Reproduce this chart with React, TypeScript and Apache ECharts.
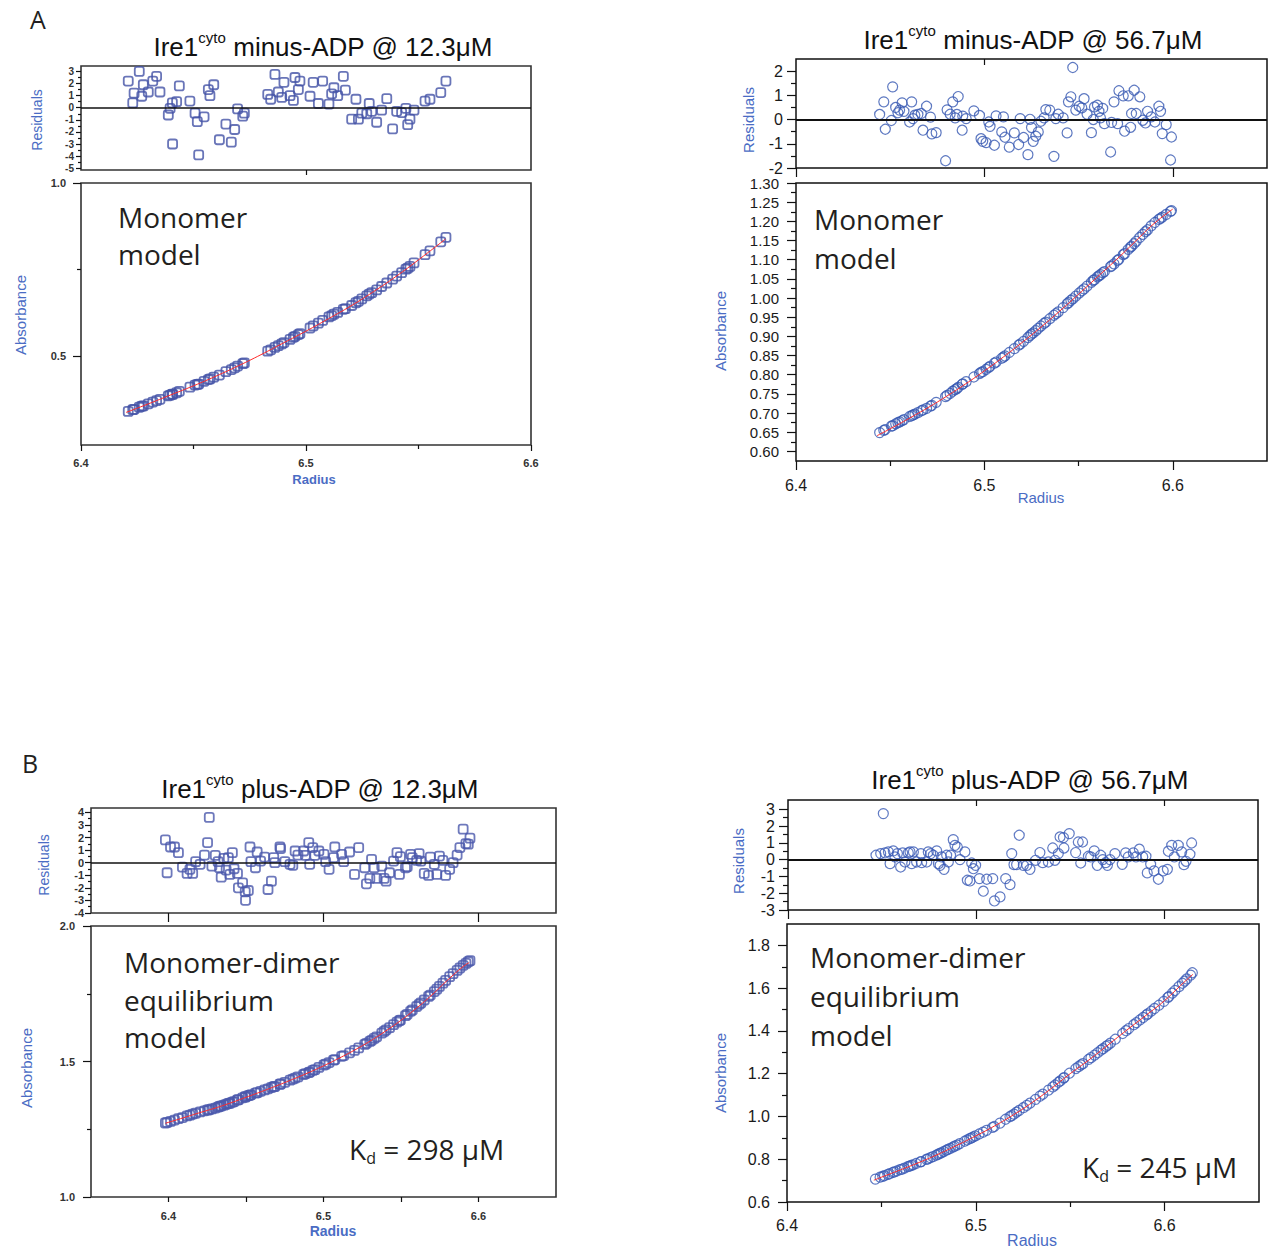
import React, { useEffect, useRef } from "react";
import * as echarts from "echarts";

const SANS = '"Liberation Sans", Arial, Helvetica, sans-serif';
const HUMAN = '"Open Sans", "Noto Sans", sans-serif';
const AXIS_BLUE = "#4a6cc4";
const INK = "#231f20";

// ---------------- Panel A (left): Ire1cyto minus-ADP @ 12.3 uM ----------------
const aLeftRadius = [6.4210,6.4230,6.4236,6.4259,6.4270,6.4277,6.4299,6.4319,6.4336,6.4351,6.4388,6.4396,6.4406,6.4407,6.4425,6.4437,6.4484,6.4507,6.4517,6.4523,6.4547,6.4566,6.4573,6.4590,6.4615,6.4644,6.4668,6.4683,6.4696,6.4719,6.4726,6.4830,6.4843,6.4862,6.4877,6.4892,6.4902,6.4929,6.4944,6.4951,6.4966,6.4973,6.5018,6.5032,6.5055,6.5074,6.5102,6.5114,6.5124,6.5141,6.5166,6.5175,6.5203,6.5222,6.5233,6.5248,6.5270,6.5281,6.5292,6.5314,6.5336,6.5359,6.5385,6.5403,6.5425,6.5444,6.5452,6.5462,6.5480,6.5529,6.5551,6.5599,6.5622];
const aLeftResidual = [2.2,0.4,1.2,3.0,0.95,1.9,1.3,2.2,2.6,1.3,-0.6,-0.05,0.4,-3.0,0.5,1.8,0.55,-0.45,-1.15,-3.9,-0.75,1.5,1.0,1.9,-2.65,-1.35,-2.85,-1.8,-0.1,-0.7,-0.45,1.1,0.7,2.75,1.3,0.85,2.1,1.0,0.6,2.5,1.5,2.2,0.95,2.1,0.35,2.2,0.3,1.15,1.65,1.0,2.6,1.45,-0.95,0.7,-0.95,-0.45,-0.5,0.35,-0.3,-1.2,-0.2,0.75,-1.75,-0.3,-0.4,-0.05,-1.4,-0.95,-0.2,0.55,0.7,1.25,2.2];
const aLeftAbsorbance = [0.340,0.345,0.346,0.352,0.355,0.356,0.362,0.367,0.371,0.375,0.385,0.387,0.390,0.389,0.394,0.398,0.410,0.416,0.418,0.419,0.427,0.432,0.434,0.439,0.445,0.455,0.461,0.466,0.471,0.478,0.480,0.514,0.518,0.525,0.530,0.535,0.539,0.548,0.554,0.557,0.562,0.565,0.581,0.587,0.595,0.603,0.613,0.617,0.621,0.626,0.635,0.637,0.646,0.654,0.658,0.665,0.674,0.679,0.683,0.691,0.701,0.711,0.722,0.731,0.741,0.751,0.754,0.759,0.769,0.793,0.804,0.830,0.843];
const aLeftFitRadius = [6.420,6.430,6.440,6.450,6.460,6.470,6.480,6.490,6.500,6.510,6.520,6.530,6.540,6.550,6.562];
const aLeftFitAbsorbance = [0.337,0.362,0.388,0.414,0.442,0.472,0.504,0.538,0.572,0.608,0.645,0.686,0.730,0.778,0.838];
const aLeftResTicks = [-5,-4,-3,-2,-1,0,1,2,3];
const aLeftResMinor = [-4.5,-3.5,-2.5,-1.5,-0.5,0.5,1.5,2.5];
const aLeftAbsTicks = [0.5,1.0];
const aLeftAbsMinor = [0.75];
const aLeftRadiusTicks = [6.4,6.5,6.6];
const aLeftRadiusMinor = [6.45,6.55];

// ---------------- Panel A (right): Ire1cyto minus-ADP @ 56.7 uM ----------------
const aRightRadius = [6.4444,6.4466,6.4474,6.4506,6.4513,6.4529,6.4541,6.4550,6.4563,6.4573,6.4603,6.4614,6.4621,6.4631,6.4647,6.4665,6.4674,6.4693,6.4714,6.4721,6.4744,6.4794,6.4802,6.4818,6.4832,6.4845,6.4854,6.4861,6.4882,6.4885,6.4903,6.4944,6.4974,6.4982,6.4991,6.5009,6.5023,6.5030,6.5053,6.5062,6.5092,6.5101,6.5109,6.5132,6.5159,6.5182,6.5190,6.5208,6.5231,6.5242,6.5250,6.5259,6.5273,6.5286,6.5300,6.5317,6.5326,6.5347,6.5369,6.5379,6.5392,6.5418,6.5439,6.5446,6.5459,6.5469,6.5485,6.5503,6.5517,6.5529,6.5545,6.5568,6.5578,6.5584,6.5600,6.5608,6.5616,6.5628,6.5637,6.5670,6.5675,6.5688,6.5707,6.5714,6.5737,6.5744,6.5764,6.5776,6.5781,6.5795,6.5806,6.5825,6.5841,6.5855,6.5866,6.5885,6.5905,6.5926,6.5935,6.5944,6.5965,6.5988,6.5993];
const aRightResidual = [0.21,0.73,-0.40,-0.04,1.35,0.50,0.28,0.39,0.69,0.34,-0.10,0.73,0.04,0.18,0.21,0.25,-0.44,0.55,0.10,-0.59,-0.54,-1.70,0.40,0.22,0.73,0.07,0.21,0.95,-0.44,0.14,0.04,0.36,0.17,-0.79,-0.90,-0.95,-0.10,-0.28,-1.06,0.15,-0.51,0.11,-0.73,-1.14,-0.55,-1.03,0.04,-0.74,-1.45,0.01,-0.33,-0.90,-0.69,-0.51,-0.07,0.07,0.41,0.39,-1.52,0.04,0.22,0.07,-0.55,0.73,0.94,2.15,0.39,0.55,0.48,0.86,0.22,-0.54,0.0,0.52,0.59,0.34,0.07,0.46,-0.17,-1.34,-0.12,0.73,-0.17,1.19,0.98,-0.48,0.98,-0.32,0.25,1.21,0.25,0.94,-0.03,-0.14,0.34,0.11,-0.10,0.55,0.34,-0.58,-0.21,-1.67,-0.72];
const aRightAbsorbance = [0.649,0.655,0.657,0.666,0.667,0.672,0.675,0.677,0.680,0.683,0.691,0.693,0.695,0.697,0.701,0.706,0.708,0.712,0.718,0.720,0.728,0.743,0.746,0.751,0.757,0.761,0.764,0.767,0.775,0.776,0.782,0.794,0.803,0.806,0.808,0.814,0.819,0.822,0.830,0.833,0.843,0.846,0.849,0.858,0.868,0.877,0.880,0.887,0.897,0.902,0.906,0.909,0.915,0.921,0.927,0.934,0.937,0.946,0.955,0.959,0.964,0.975,0.985,0.988,0.994,0.998,1.005,1.013,1.019,1.024,1.031,1.041,1.046,1.048,1.055,1.058,1.061,1.066,1.069,1.082,1.084,1.089,1.098,1.101,1.113,1.116,1.127,1.133,1.135,1.142,1.148,1.158,1.166,1.173,1.178,1.188,1.197,1.205,1.208,1.211,1.218,1.226,1.228];
const aRightFitRadius = [6.443,6.45,6.46,6.47,6.48,6.49,6.50,6.51,6.52,6.53,6.54,6.55,6.56,6.57,6.58,6.59,6.60];
const aRightFitAbsorbance = [0.641,0.659,0.686,0.714,0.744,0.776,0.810,0.846,0.884,0.924,0.966,1.010,1.055,1.100,1.147,1.194,1.232];
const aRightResTicks = [-2,-1,0,1,2];
const aRightResMinor = [-1.5,-0.5,0.5,1.5];
const aRightAbsTicks = [0.60,0.65,0.70,0.75,0.80,0.85,0.90,0.95,1.00,1.05,1.10,1.15,1.20,1.25,1.30];
const aRightAbsMinor = [0.625,0.675,0.725,0.775,0.825,0.875,0.925,0.975,1.025,1.075,1.125,1.175,1.225,1.275];
const aRightRadiusTicks = [6.4,6.5,6.6];
const aRightRadiusMinor = [6.45,6.55];

// ---------------- Panel B (left): Ire1cyto plus-ADP @ 12.3 uM ----------------
const bLeftRadius = [6.3980,6.3991,6.4013,6.4039,6.4064,6.4090,6.4120,6.4138,6.4156,6.4175,6.4204,6.4232,6.4252,6.4263,6.4280,6.4302,6.4320,6.4329,6.4340,6.4357,6.4372,6.4386,6.4396,6.4412,6.4423,6.4445,6.4451,6.4478,6.4495,6.4497,6.4515,6.4526,6.4532,6.4561,6.4572,6.4594,6.4620,6.4642,6.4664,6.4679,6.4686,6.4719,6.4723,6.4751,6.4784,6.4802,6.4817,6.4835,6.4872,6.4883,6.4905,6.4911,6.4931,6.4944,6.4970,6.5003,6.5014,6.5036,6.5065,6.5073,6.5117,6.5130,6.5168,6.5200,6.5227,6.5266,6.5277,6.5299,6.5310,6.5327,6.5343,6.5376,6.5391,6.5404,6.5426,6.5452,6.5474,6.5490,6.5496,6.5529,6.5540,6.5562,6.5573,6.5601,6.5617,6.5628,6.5650,6.5678,6.5689,6.5715,6.5731,6.5748,6.5770,6.5788,6.5814,6.5836,6.5862,6.5880,6.5901,6.5919,6.5934,6.5945];
const bLeftResidual = [1.81,-0.80,1.25,1.25,0.80,-0.35,-0.85,-0.53,-0.85,0.08,-0.13,0.61,1.60,3.6,-0.27,0.59,0.08,-0.40,-1.15,0.35,-0.59,0.40,-0.93,0.80,-0.48,-0.85,-2.0,-1.6,-2.32,-2.99,-2.21,1.25,0.08,-0.40,0.85,0.13,0.45,-2.13,-1.47,0.40,0.0,1.25,1.12,0.08,-0.13,-0.21,0.93,0.61,0.93,0.59,1.60,-0.13,1.20,0.59,0.93,0.67,0.08,-0.53,0.40,1.25,0.67,0.08,0.85,-0.93,1.20,-0.40,-1.68,-1.25,0.27,-0.40,-1.25,-0.27,-1.25,-1.47,-0.80,0.13,0.80,-0.93,0.48,-0.40,-0.32,0.67,0.40,0.19,0.72,0.13,-0.85,-1.01,0.45,-0.13,-0.93,0.53,0.19,-1.01,-0.53,0.0,0.61,1.20,2.67,1.52,1.47,1.95];
const bLeftAbsorbance = [1.273,1.275,1.279,1.284,1.289,1.293,1.299,1.302,1.306,1.309,1.314,1.318,1.321,1.322,1.325,1.328,1.332,1.334,1.336,1.339,1.342,1.345,1.346,1.350,1.352,1.358,1.359,1.366,1.370,1.369,1.374,1.376,1.377,1.383,1.385,1.390,1.395,1.399,1.404,1.407,1.408,1.416,1.417,1.423,1.431,1.435,1.439,1.443,1.452,1.455,1.459,1.461,1.467,1.470,1.478,1.487,1.490,1.496,1.505,1.507,1.519,1.522,1.532,1.541,1.550,1.563,1.567,1.574,1.578,1.585,1.591,1.605,1.611,1.617,1.625,1.636,1.645,1.651,1.653,1.669,1.674,1.685,1.690,1.703,1.711,1.716,1.727,1.740,1.745,1.758,1.767,1.777,1.789,1.799,1.813,1.824,1.836,1.845,1.855,1.862,1.868,1.872];
const bLeftFitRadius = [6.398,6.41,6.42,6.43,6.44,6.45,6.46,6.47,6.48,6.49,6.50,6.51,6.52,6.53,6.54,6.55,6.56,6.57,6.58,6.59,6.594];
const bLeftFitAbsorbance = [1.272,1.293,1.311,1.328,1.347,1.368,1.389,1.411,1.434,1.458,1.484,1.512,1.542,1.575,1.612,1.652,1.697,1.746,1.800,1.850,1.865];
const bLeftResTicks = [-4,-3,-2,-1,0,1,2,3,4];
const bLeftResMinor = [-3.5,-2.5,-1.5,-0.5,0.5,1.5,2.5,3.5];
const bLeftAbsTicks = [1.0,1.5,2.0];
const bLeftAbsMinor = [1.25,1.75];
const bLeftRadiusTicks = [6.4,6.5,6.6];
const bLeftRadiusMinor = [6.45,6.55];

// ---------------- Panel B (right): Ire1cyto plus-ADP @ 56.7 uM ----------------
const bRightRadius = [6.4468,6.4493,6.4507,6.4516,6.4534,6.4543,6.4560,6.4569,6.4582,6.4599,6.4610,6.4622,6.4640,6.4649,6.4658,6.4667,6.4684,6.4707,6.4711,6.4738,6.4746,6.4759,6.4773,6.4791,6.4800,6.4809,6.4817,6.4830,6.4844,6.4853,6.4865,6.4879,6.4888,6.4901,6.4915,6.4941,6.4954,6.4968,6.4977,6.4986,6.4998,6.5018,6.5039,6.5057,6.5089,6.5098,6.5128,6.5158,6.5181,6.5190,6.5202,6.5216,6.5230,6.5252,6.5270,6.5287,6.5317,6.5340,6.5355,6.5385,6.5408,6.5420,6.5438,6.5447,6.5465,6.5468,6.5496,6.5530,6.5544,6.5557,6.5567,6.5598,6.5610,6.5629,6.5645,6.5663,6.5674,6.5690,6.5699,6.5713,6.5739,6.5778,6.5796,6.5810,6.5837,6.5851,6.5869,6.5887,6.5904,6.5911,6.5929,6.5947,6.5970,6.5996,6.6018,6.6023,6.6041,6.6055,6.6076,6.6094,6.6106,6.6117,6.6138,6.6147];
const bRightResidual = [0.26,0.36,2.74,0.40,0.46,-0.24,0.52,0.16,0.36,-0.44,0.40,-0.14,0.40,0.46,-0.24,0.46,-0.14,0.36,-0.18,-0.14,0.46,0.36,0.26,0.52,-0.24,-0.34,0.16,-0.58,0.26,-0.14,0.26,1.19,0.85,0.75,0.0,0.46,-1.23,-1.27,-0.20,-0.54,-0.34,-1.13,-1.88,-1.17,-1.13,-2.46,-2.22,-1.13,-1.49,0.36,-0.30,-0.30,1.45,-0.34,-0.34,-0.58,-0.04,0.42,-0.18,-0.14,0.69,-0.04,0.36,1.35,1.31,0.69,1.55,0.42,1.05,-0.20,1.05,0.20,0.16,0.52,-0.34,0.26,0.0,-0.18,-0.34,0.0,0.36,-0.28,0.40,0.16,0.40,0.16,0.62,0.16,0.20,-0.79,-0.28,-0.67,-1.17,-0.67,-0.58,0.50,0.85,0.16,0.85,0.46,-0.30,-0.10,0.32,0.99];
const bRightAbsorbance = [0.707,0.716,0.720,0.723,0.729,0.732,0.738,0.741,0.745,0.751,0.754,0.758,0.765,0.768,0.771,0.774,0.780,0.788,0.789,0.799,0.802,0.807,0.812,0.819,0.823,0.827,0.830,0.836,0.842,0.846,0.851,0.857,0.861,0.866,0.873,0.884,0.890,0.896,0.900,0.904,0.909,0.918,0.927,0.935,0.949,0.953,0.969,0.987,0.999,1.004,1.011,1.020,1.028,1.041,1.052,1.062,1.080,1.095,1.104,1.123,1.138,1.147,1.160,1.166,1.179,1.182,1.202,1.224,1.233,1.241,1.247,1.267,1.275,1.287,1.298,1.310,1.317,1.328,1.333,1.343,1.361,1.388,1.401,1.411,1.429,1.439,1.451,1.463,1.475,1.480,1.492,1.505,1.520,1.538,1.557,1.561,1.577,1.589,1.607,1.623,1.633,1.643,1.661,1.672];
const bRightFitRadius = [6.446,6.45,6.46,6.47,6.48,6.49,6.50,6.51,6.52,6.53,6.54,6.55,6.56,6.57,6.58,6.59,6.60,6.61,6.615];
const bRightFitAbsorbance = [0.702,0.716,0.750,0.785,0.823,0.865,0.909,0.956,1.008,1.066,1.131,1.200,1.265,1.334,1.404,1.472,1.542,1.625,1.665];
const bRightResTicks = [-3,-2,-1,0,1,2,3];
const bRightResMinor = [-2.5,-1.5,-0.5,0.5,1.5,2.5];
const bRightAbsTicks = [0.6,0.8,1.0,1.2,1.4,1.6,1.8];
const bRightAbsMinor = [0.7,0.9,1.1,1.3,1.5,1.7];
const bRightRadiusTicks = [6.4,6.5,6.6];
const bRightRadiusMinor = [6.45,6.55];

const zip = (a: number[], b: number[]) => {
  const n = Math.min(a.length, b.length);
  const out: number[][] = [];
  for (let i = 0; i < n; i++) out.push([a[i], b[i]]);
  return out;
};

const fmtInt = (v: number) => String(Math.round(v));
const fmt1 = (v: number) => v.toFixed(1);
const fmt2 = (v: number) => v.toFixed(2);

type Box = {
  left: number; top: number; width: number; height: number; min: number; max: number;
  yTicks: number[]; yMinor: number[]; yLen: number; yMinorLen: number;
  yLabelSize: number; yLabelMargin: number; yFmt: (v: number) => string;
  xTicks: number[]; xLen: number; xMinor: number[]; xMinorLen: number;
  xLabels: boolean; xLabelSize?: number; xLabelMargin?: number; xTop?: number[];
};

type Panel = {
  radius: number[]; residual: number[]; absorbance: number[];
  fitRadius: number[]; fitAbsorbance: number[];
  xMin: number; xMax: number; color: string; symbol: string; symbolSize: number; symbolBorder: number;
  frame: string; frameWidth: number; zeroWidth: number; labelColor: string; labelFont: string; labelWeight: string;
  res: Box; abs: Box;
};

const panels: Panel[] = [
  {
    radius: aLeftRadius, residual: aLeftResidual, absorbance: aLeftAbsorbance,
    fitRadius: aLeftFitRadius, fitAbsorbance: aLeftFitAbsorbance,
    xMin: 6.4, xMax: 6.6, color: "#4352a6", symbol: "roundRect", symbolSize: 9, symbolBorder: 1.8,
    frame: "#333", frameWidth: 1.6, zeroWidth: 1.5, labelColor: "#333", labelFont: SANS, labelWeight: "bold",
    res: { left: 81, top: 66, width: 450, height: 104, min: -5.15, max: 3.45,
      yTicks: aLeftResTicks, yMinor: aLeftResMinor, yLen: 5, yMinorLen: 3, yLabelSize: 10, yLabelMargin: 7, yFmt: fmtInt,
      xTicks: [6.5], xLen: 5, xMinor: [], xMinorLen: 0, xLabels: false },
    abs: { left: 81, top: 183, width: 450, height: 262, min: 0.243, max: 1.0,
      yTicks: aLeftAbsTicks, yMinor: aLeftAbsMinor, yLen: 8, yMinorLen: 4, yLabelSize: 11, yLabelMargin: 15, yFmt: fmt1,
      xTicks: aLeftRadiusTicks, xLen: 6, xMinor: aLeftRadiusMinor, xMinorLen: 4, xLabels: true, xLabelSize: 11, xLabelMargin: 12 },
  },
  {
    radius: aRightRadius, residual: aRightResidual, absorbance: aRightAbsorbance,
    fitRadius: aRightFitRadius, fitAbsorbance: aRightFitAbsorbance,
    xMin: 6.4, xMax: 6.65, color: "#3658b2", symbol: "circle", symbolSize: 10, symbolBorder: 1.2,
    frame: "#111", frameWidth: 1.5, zeroWidth: 2, labelColor: "#1a1a1a", labelFont: SANS, labelWeight: "normal",
    res: { left: 796, top: 59, width: 471, height: 109, min: -2, max: 2.5,
      yTicks: aRightResTicks, yMinor: aRightResMinor, yLen: 9, yMinorLen: 5, yLabelSize: 16, yLabelMargin: 13, yFmt: fmtInt,
      xTicks: aRightRadiusTicks, xLen: 9, xMinor: [], xMinorLen: 0, xLabels: false, xTop: [6.5] },
    abs: { left: 796, top: 183, width: 471, height: 278, min: 0.575, max: 1.30,
      yTicks: aRightAbsTicks, yMinor: aRightAbsMinor, yLen: 9, yMinorLen: 5, yLabelSize: 15, yLabelMargin: 17, yFmt: fmt2,
      xTicks: aRightRadiusTicks, xLen: 9, xMinor: aRightRadiusMinor, xMinorLen: 5, xLabels: true, xLabelSize: 16, xLabelMargin: 16 },
  },
  {
    radius: bLeftRadius, residual: bLeftResidual, absorbance: bLeftAbsorbance,
    fitRadius: bLeftFitRadius, fitAbsorbance: bLeftFitAbsorbance,
    xMin: 6.35, xMax: 6.65, color: "#4a57ab", symbol: "roundRect", symbolSize: 9, symbolBorder: 1.8,
    frame: "#333", frameWidth: 1.6, zeroWidth: 1.5, labelColor: "#333", labelFont: SANS, labelWeight: "bold",
    res: { left: 91, top: 808, width: 465, height: 105, min: -4, max: 4.35,
      yTicks: bLeftResTicks, yMinor: bLeftResMinor, yLen: 6, yMinorLen: 3, yLabelSize: 11, yLabelMargin: 7, yFmt: fmtInt,
      xTicks: bLeftRadiusTicks, xLen: 9, xMinor: [], xMinorLen: 0, xLabels: false },
    abs: { left: 91, top: 926, width: 465, height: 271, min: 1.0, max: 2.0,
      yTicks: bLeftAbsTicks, yMinor: bLeftAbsMinor, yLen: 8, yMinorLen: 4, yLabelSize: 11, yLabelMargin: 16, yFmt: fmt1,
      xTicks: bLeftRadiusTicks, xLen: 5, xMinor: bLeftRadiusMinor, xMinorLen: 5, xLabels: true, xLabelSize: 11, xLabelMargin: 13 },
  },
  {
    radius: bRightRadius, residual: bRightResidual, absorbance: bRightAbsorbance,
    fitRadius: bRightFitRadius, fitAbsorbance: bRightFitAbsorbance,
    xMin: 6.4, xMax: 6.65, color: "#3a5ab5", symbol: "circle", symbolSize: 10, symbolBorder: 1.2,
    frame: "#111", frameWidth: 1.5, zeroWidth: 2, labelColor: "#1a1a1a", labelFont: SANS, labelWeight: "normal",
    res: { left: 788, top: 800, width: 470, height: 110, min: -3, max: 3.55,
      yTicks: bRightResTicks, yMinor: bRightResMinor, yLen: 9, yMinorLen: 5, yLabelSize: 16, yLabelMargin: 13, yFmt: fmtInt,
      xTicks: bRightRadiusTicks, xLen: 9, xMinor: [], xMinorLen: 0, xLabels: false, xTop: [6.5, 6.6] },
    abs: { left: 787, top: 924, width: 472, height: 278, min: 0.6, max: 1.9,
      yTicks: bRightAbsTicks, yMinor: bRightAbsMinor, yLen: 9, yMinorLen: 5, yLabelSize: 16, yLabelMargin: 17, yFmt: fmt1,
      xTicks: bRightRadiusTicks, xLen: 9, xMinor: bRightRadiusMinor, xMinorLen: 5, xLabels: true, xLabelSize: 16, xLabelMargin: 15 },
  },
];

function valueAxis(
  gridIndex: number, min: number, max: number, position: string,
  ticks: number[], tickLen: number, inside: boolean,
  label: null | { values: number[]; size: number; margin: number; fmt: (v: number) => string; color: string; font: string; weight: string }
) {
  return {
    type: "value",
    gridIndex, min, max, position,
    axisLine: { show: false, onZero: false },
    splitLine: { show: false },
    minorTick: { show: false },
    axisTick: {
      show: ticks.length > 0,
      customValues: ticks,
      length: tickLen,
      inside,
      lineStyle: { color: "#111", width: 1.2 },
    },
    axisLabel: label
      ? {
          show: true,
          customValues: label.values,
          fontSize: label.size,
          fontFamily: label.font,
          fontWeight: label.weight,
          color: label.color,
          margin: label.margin,
          formatter: (v: number) => label.fmt(v),
        }
      : { show: false },
  };
}

function gridOf(b: Box, show: boolean, p: Panel) {
  return {
    left: b.left, top: b.top, width: b.width, height: b.height,
    show, borderColor: p.frame, borderWidth: p.frameWidth, backgroundColor: "transparent",
    containLabel: false, outerBoundsMode: "none",
  };
}

function plainText(text: string, x: number, y: number, size: number, opts: any = {}) {
  return {
    type: "text", x, y, rotation: opts.rotation || 0, silent: true, z: 100,
    style: {
      text, fontSize: size, fontFamily: opts.family || SANS, fontWeight: opts.weight || "normal",
      fill: opts.color || "#111",
      align: opts.align || "center", textAlign: opts.align || "center",
      verticalAlign: "middle", textVerticalAlign: "middle",
    },
  };
}

function titleText(x: number, y: number, rest: string) {
  return {
    type: "text", x, y, silent: true, z: 100,
    style: {
      text: `{m|Ire1}{s|cyto}{m|${rest}}`,
      align: "center", textAlign: "center", verticalAlign: "middle", textVerticalAlign: "middle",
      rich: {
        m: { fontSize: 26, fontFamily: SANS, fill: "#111", lineHeight: 34, verticalAlign: "middle" },
        s: { fontSize: 15, fontFamily: SANS, fill: "#111", lineHeight: 15, verticalAlign: "top" },
      },
    },
  };
}

function kdText(x: number, y: number, value: string) {
  const big = { fontSize: 28, fontFamily: HUMAN, fill: INK, lineHeight: 34, verticalAlign: "middle" };
  return {
    type: "text", x, y, silent: true, z: 100,
    style: {
      text: `{k|K}{d|d}{t| = ${value} μM}`,
      align: "left", textAlign: "left", verticalAlign: "middle", textVerticalAlign: "middle",
      rich: {
        k: big,
        d: { fontSize: 16, fontFamily: HUMAN, fill: INK, lineHeight: 14, verticalAlign: "bottom" },
        t: big,
      },
    },
  };
}

function annotation(lines: string[], x: number, ys: number[]) {
  return lines.map((l, i) => plainText(l, x, ys[i], 28, { family: HUMAN, color: INK, align: "left" }));
}

function buildOption() {
  const grid: any[] = [];
  const xAxis: any[] = [];
  const yAxis: any[] = [];
  const series: any[] = [];

  panels.forEach((p, i) => {
    const base = i * 4;
    const lab = (values: number[], size: number, margin: number, fmt: (v: number) => string) => ({
      values, size, margin, fmt, color: p.labelColor, font: p.labelFont, weight: p.labelWeight,
    });
    grid.push(gridOf(p.res, true, p), gridOf(p.res, false, p), gridOf(p.abs, true, p), gridOf(p.abs, false, p));

    // residual grid axes
    xAxis.push(valueAxis(base, p.xMin, p.xMax, "bottom", p.res.xTicks, p.res.xLen, false, null));
    xAxis.push(valueAxis(base + 1, p.xMin, p.xMax, "top", p.res.xTop || [], 6, true, null));
    yAxis.push(valueAxis(base, p.res.min, p.res.max, "left", p.res.yTicks, p.res.yLen, false,
      lab(p.res.yTicks, p.res.yLabelSize, p.res.yLabelMargin, p.res.yFmt)));
    yAxis.push(valueAxis(base + 1, p.res.min, p.res.max, "left", p.res.yMinor, p.res.yMinorLen, false, null));

    // absorbance grid axes
    xAxis.push(valueAxis(base + 2, p.xMin, p.xMax, "bottom", p.abs.xTicks, p.abs.xLen, false,
      lab(p.abs.xTicks, p.abs.xLabelSize || 12, p.abs.xLabelMargin || 12, fmt1)));
    xAxis.push(valueAxis(base + 3, p.xMin, p.xMax, "bottom", p.abs.xMinor, p.abs.xMinorLen, false, null));
    yAxis.push(valueAxis(base + 2, p.abs.min, p.abs.max, "left", p.abs.yTicks, p.abs.yLen, false,
      lab(p.abs.yTicks, p.abs.yLabelSize, p.abs.yLabelMargin, p.abs.yFmt)));
    yAxis.push(valueAxis(base + 3, p.abs.min, p.abs.max, "left", p.abs.yMinor, p.abs.yMinorLen, false, null));

    const marker = {
      symbol: p.symbol, symbolSize: p.symbolSize,
      itemStyle: { color: "rgba(255,255,255,0)", borderColor: p.color, borderWidth: p.symbolBorder },
      silent: true,
    };

    series.push({
      type: "scatter", xAxisIndex: base, yAxisIndex: base, data: zip(p.radius, p.residual), z: 3, ...marker,
      markLine: {
        silent: true, symbol: ["none", "none"], label: { show: false },
        lineStyle: { color: "#111", width: p.zeroWidth, type: "solid" },
        data: [{ yAxis: 0 }],
      },
    });
    series.push({
      type: "scatter", xAxisIndex: base + 2, yAxisIndex: base + 2, data: zip(p.radius, p.absorbance), z: 3, ...marker,
    });
    series.push({
      type: "line", xAxisIndex: base + 2, yAxisIndex: base + 2, data: zip(p.fitRadius, p.fitAbsorbance),
      smooth: true, showSymbol: false, symbol: "none", silent: true, z: 5,
      lineStyle: { color: "#ff2a2a", width: 1 },
    });
  });

  const elements: any[] = [
    plainText("A", 38, 19, 25, { family: HUMAN, color: INK }),
    plainText("B", 30, 763, 25, { family: HUMAN, color: INK }),
    titleText(323, 47, " minus-ADP @ 12.3μM"),
    titleText(1033, 40, " minus-ADP @ 56.7μM"),
    titleText(320, 789, " plus-ADP @ 12.3μM"),
    titleText(1030, 780, " plus-ADP @ 56.7μM"),

    plainText("Residuals", 37, 120, 14, { rotation: Math.PI / 2, color: AXIS_BLUE }),
    plainText("Absorbance", 20, 315, 15, { rotation: Math.PI / 2, color: AXIS_BLUE }),
    plainText("Radius", 314, 479, 13, { color: AXIS_BLUE, weight: "bold" }),

    plainText("Residuals", 748, 120, 15, { rotation: Math.PI / 2, color: AXIS_BLUE }),
    plainText("Absorbance", 720, 331, 15, { rotation: Math.PI / 2, color: AXIS_BLUE }),
    plainText("Radius", 1041, 497, 15, { color: AXIS_BLUE }),

    plainText("Residuals", 44, 865, 14, { rotation: Math.PI / 2, color: AXIS_BLUE }),
    plainText("Absorbance", 26, 1068, 15, { rotation: Math.PI / 2, color: AXIS_BLUE }),
    plainText("Radius", 333, 1231, 14, { color: AXIS_BLUE, weight: "bold" }),

    plainText("Residuals", 738, 861, 15, { rotation: Math.PI / 2, color: AXIS_BLUE }),
    plainText("Absorbance", 720, 1073, 15, { rotation: Math.PI / 2, color: AXIS_BLUE }),
    plainText("Radius", 1032, 1240, 16, { color: AXIS_BLUE }),

    ...annotation(["Monomer", "model"], 118, [217, 254]),
    ...annotation(["Monomer", "model"], 814, [219, 258]),
    ...annotation(["Monomer-dimer", "equilibrium", "model"], 124, [962, 1000, 1037]),
    ...annotation(["Monomer-dimer", "equilibrium", "model"], 810, [957, 996, 1035]),
    kdText(349, 1149, "298"),
    kdText(1082, 1167, "245"),
  ];

  return {
    animation: false,
    backgroundColor: "#ffffff",
    tooltip: { show: false },
    grid, xAxis, yAxis, series,
    graphic: { elements },
  };
}

export default function App() {
  const ref = useRef<HTMLDivElement>(null);
  useEffect(() => {
    if (!ref.current) return;
    const chart = echarts.init(ref.current, null, { renderer: "svg" });
    chart.setOption(buildOption() as any);
    return () => chart.dispose();
  }, []);
  return (
    <div
      ref={ref}
      style={{ position: "absolute", left: 0, top: 0, width: 1268, height: 1249, background: "#fff" }}
    />
  );
}
